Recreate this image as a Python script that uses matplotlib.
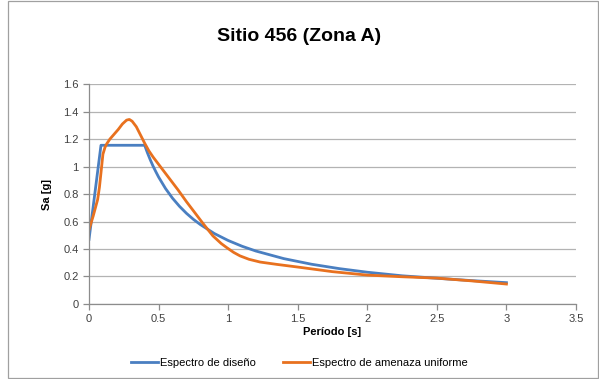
# Espectros de respuesta - Sitio 456 (Zona A)

import numpy as np
import matplotlib.pyplot as plt
from matplotlib.patches import Rectangle

plt.rcParams['font.family'] = ['Liberation Sans', 'DejaVu Sans']

# Espectro de diseño
t_dis = [0, 0.086, 0.40, 0.42, 0.44, 0.46, 0.48, 0.50, 0.55, 0.60, 0.65, 0.70,
         0.75, 0.80, 0.90, 1.00, 1.10, 1.20, 1.40, 1.60, 1.80, 2.00, 2.25, 2.50,
         2.75, 3.00]
sa_dis = [0.47, 1.155, 1.155, 1.10, 1.05, 1.004, 0.963, 0.924, 0.84, 0.77, 0.711,
          0.66, 0.616, 0.578, 0.513, 0.462, 0.42, 0.385, 0.33, 0.289, 0.257, 0.231,
          0.205, 0.187, 0.17, 0.155]

# Espectro de amenaza uniforme
t_uhs = [0, 0.03, 0.062, 0.075, 0.086, 0.10, 0.115, 0.127, 0.15, 0.18, 0.21, 0.24,
         0.27, 0.29, 0.31, 0.34, 0.37, 0.40, 0.43, 0.46, 0.52, 0.58, 0.64, 0.70,
         0.76, 0.82, 0.89, 0.95, 0.99, 1.04, 1.085, 1.15, 1.23, 1.35, 1.52, 1.75,
         2.00, 2.25, 2.50, 2.75, 3.00]
sa_uhs = [0.54, 0.64, 0.76, 0.85, 0.955, 1.09, 1.14, 1.165, 1.20, 1.235, 1.27, 1.31,
          1.338, 1.343, 1.33, 1.29, 1.23, 1.17, 1.115, 1.07, 0.99, 0.91, 0.83, 0.745,
          0.665, 0.585, 0.496, 0.44, 0.41, 0.375, 0.35, 0.325, 0.305, 0.288, 0.266,
          0.235, 0.21, 0.198, 0.188, 0.168, 0.145]

fig = plt.figure(figsize=(5.99, 3.79), dpi=100)
ax = fig.add_axes([0.1486, 0.198, 0.813, 0.58])

ax.plot(t_dis, sa_dis, color='#4a7fc1', lw=2.0, label='Espectro de diseño')
ax.plot(t_uhs, sa_uhs, color='#e8711f', lw=2.0, label='Espectro de amenaza uniforme')

ax.set_xlim(0, 3.5)
ax.set_ylim(0, 1.6)
ax.set_xticks(np.arange(0, 3.51, 0.5))
ax.set_xticklabels(['0', '0.5', '1', '1.5', '2', '2.5', '3', '3.5'])
ax.set_yticks(np.arange(0, 1.61, 0.2))
ax.set_yticklabels(['0', '0.2', '0.4', '0.6', '0.8', '1', '1.2', '1.4', '1.6'])
ax.yaxis.grid(True, color='#b3b3b3', lw=0.9)
ax.set_axisbelow(True)
for s in ['top', 'right']:
    ax.spines[s].set_visible(False)
for s in ['left', 'bottom']:
    ax.spines[s].set_color('#8c8c8c')
    ax.spines[s].set_linewidth(0.9)
ax.tick_params(axis='both', labelsize=8, color='#8c8c8c', length=4, width=0.9, labelcolor='#404040')

ax.set_xlabel('Período [s]', fontsize=8, fontweight='bold', labelpad=2)
ax.set_ylabel('Sa [g]', fontsize=8, fontweight='bold', labelpad=8)
fig.text(0.5, 0.905, 'Sitio 456 (Zona A)', ha='center', va='center', fontsize=14, fontweight='bold')

fig.legend(loc='center', bbox_to_anchor=(0.5, 0.043), ncol=2, frameon=False, fontsize=8,
           handlelength=2.4, handletextpad=0.2, columnspacing=2.4)

fig.add_artist(Rectangle((0.013, 0.003), 0.985, 0.994, transform=fig.transFigure,
                         fill=False, edgecolor='#a0a0a0', lw=0.9))

plt.savefig('out.png')
